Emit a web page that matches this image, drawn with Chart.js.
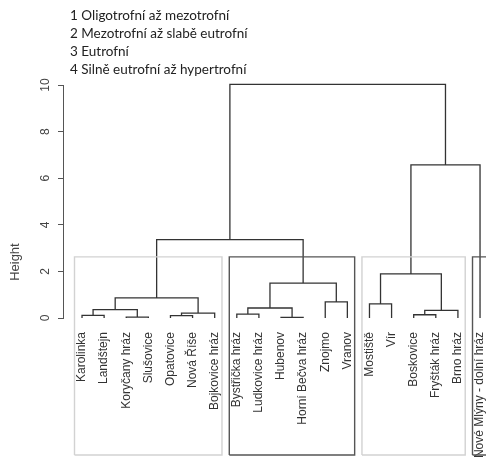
<!DOCTYPE html>
<html>
<head>
<meta charset="utf-8">
<script src="https://cdn.jsdelivr.net/npm/chart.js@4.4.1/dist/chart.umd.min.js"></script>
<style>
  html, body { margin: 0; padding: 0; background: #fff; }
  #wrap { width: 486px; height: 457px; }
</style>
</head>
<body>
<div id="wrap"><canvas id="chart" width="486" height="457"></canvas></div>
<script>
// leaves in dendrogram order
const leaves = [
  'Karolinka', 'Landštejn', 'Koryčany hráz', 'Slušovice', 'Opatovice', 'Nová Říše',
  'Bojkovice hráz', 'Bystřička hráz', 'Ludkovice hráz', 'Hubenov', 'Horní Bečva hráz',
  'Znojmo', 'Vranov', 'Mostiště', 'Vír', 'Boskovice', 'Fryšták hráz', 'Brno hráz',
  'Nové Mlýny - dolní hráz'
];

// hclust-style merge table: negative = leaf number, positive = earlier merge row
const mergeLeft   = [-10, -3, -5, -1, -16, -8, 3, 5, 4, 6, -14, -12, 9, 10, 11, 13, 15, 16];
const mergeRight  = [-11, -4, -6, -2, -17, -9, -7, -18, 2, 1, -15, -13, 7, 12, 8, 14, -19, 17];
const mergeHeight = [0.03, 0.04, 0.10, 0.11, 0.14, 0.17, 0.21, 0.33, 0.36, 0.43, 0.61, 0.69,
                     0.86, 1.50, 1.89, 3.36, 6.57, 10.03];

// rect.hclust(k = 4)
const clusterFirst = [1, 8, 14, 19];
const clusterLast  = [7, 13, 18, 19];
const clusterColor = ['#d2d2d2', '#555555', '#d2d2d2', '#555555'];

const yTicks = [0, 2, 4, 6, 8, 10];
const legendLines = [
  '1 Oligotrofní až mezotrofní',
  '2 Mezotrofní až slabě eutrofní',
  '3 Eutrofní',
  '4 Silně eutrofní až hypertrofní'
];

const RECT_BOTTOM = -5.88; // bottom of the plotting region (usr[3])

// build dendrogram segments
const nodeX = [];
const treePts = [];
function childPos(c) {
  return c < 0 ? [-c, 0] : [nodeX[c - 1], mergeHeight[c - 1]];
}
mergeHeight.forEach((h, i) => {
  const [xl, yl] = childPos(mergeLeft[i]);
  const [xr, yr] = childPos(mergeRight[i]);
  nodeX[i] = (xl + xr) / 2;
  treePts.push({x: xl, y: yl}, {x: xl, y: h}, {x: xr, y: h}, {x: xr, y: yr}, {x: xr, y: null});
});

const sortedH = mergeHeight.slice().sort((a, b) => b - a);
const k = clusterFirst.length;
const rectTop = (sortedH[k - 2] + sortedH[k - 1]) / 2;

const rectSets = clusterFirst.map((f, i) => {
  const x0 = f - 0.34, x1 = clusterLast[i] + 0.33;
  return {
    data: [
      {x: x0, y: RECT_BOTTOM}, {x: x0, y: rectTop}, {x: x1, y: rectTop},
      {x: x1, y: RECT_BOTTOM}, {x: x0, y: RECT_BOTTOM}
    ],
    borderColor: clusterColor[i],
    borderWidth: 1.4,
    showLine: true,
    pointRadius: 0,
    clip: false
  };
});

const textPlugin = {
  id: 'texts',
  afterDraw(chart) {
    const ctx = chart.ctx;
    const ys = chart.scales.y;
    ctx.save();
    ctx.fillStyle = '#222';
    ctx.font = '13.5px Lato';
    ctx.textAlign = 'left';
    ctx.textBaseline = 'middle';
    legendLines.forEach((t, i) => ctx.fillText(t, 70, 16 + i * 18));
    // axis title
    ctx.translate(15, ys.getPixelForValue(2.4));
    ctx.rotate(-Math.PI / 2);
    ctx.textAlign = 'center';
    ctx.fillStyle = '#444';
    ctx.font = '13px "Liberation Sans"';
    ctx.fillText('Height', 0, 0);
    ctx.restore();
  }
};

new Chart(document.getElementById('chart'), {
  type: 'scatter',
  data: {
    datasets: [
      ...rectSets,
      {
        data: treePts,
        borderColor: '#333',
        borderWidth: 1.3,
        showLine: true,
        spanGaps: false,
        pointRadius: 0,
        clip: false
      }
    ]
  },
  options: {
    responsive: false,
    animation: false,
    layout: { padding: { top: 85, left: 0, right: 0, bottom: 0 } },
    plugins: { legend: { display: false }, tooltip: { enabled: false } },
    scales: {
      x: {
        type: 'linear',
        min: 0.14,
        max: 19.27,
        grid: { display: false, drawTicks: false },
        border: { display: false },
        afterBuildTicks: s => { s.ticks = leaves.map((_, i) => ({ value: i + 1 })); },
        afterFit: s => { s.height = 139; s.paddingLeft = 0; s.paddingRight = 0; },
        ticks: {
          autoSkip: false,
          minRotation: 90,
          maxRotation: 90,
          padding: 14,
          color: '#333',
          font: { family: '"Liberation Sans", Arial', size: 12 },
          callback: v => leaves[v - 1] || ''
        }
      },
      y: {
        min: 0,
        max: 10,
        grid: { drawOnChartArea: false, drawTicks: true, tickLength: 5, color: '#555' },
        border: { display: true, color: '#555' },
        afterBuildTicks: s => { s.ticks = yTicks.map(v => ({ value: v })); },
        afterFit: s => { s.width = 63; s.paddingTop = 0; s.paddingBottom = 0; },
        ticks: {
          minRotation: 90,
          maxRotation: 90,
          crossAlign: 'center',
          padding: 6,
          color: '#444',
          font: { family: '"Liberation Sans", Arial', size: 12 }
        }
      }
    }
  },
  plugins: [textPlugin]
});
</script>
</body>
</html>
